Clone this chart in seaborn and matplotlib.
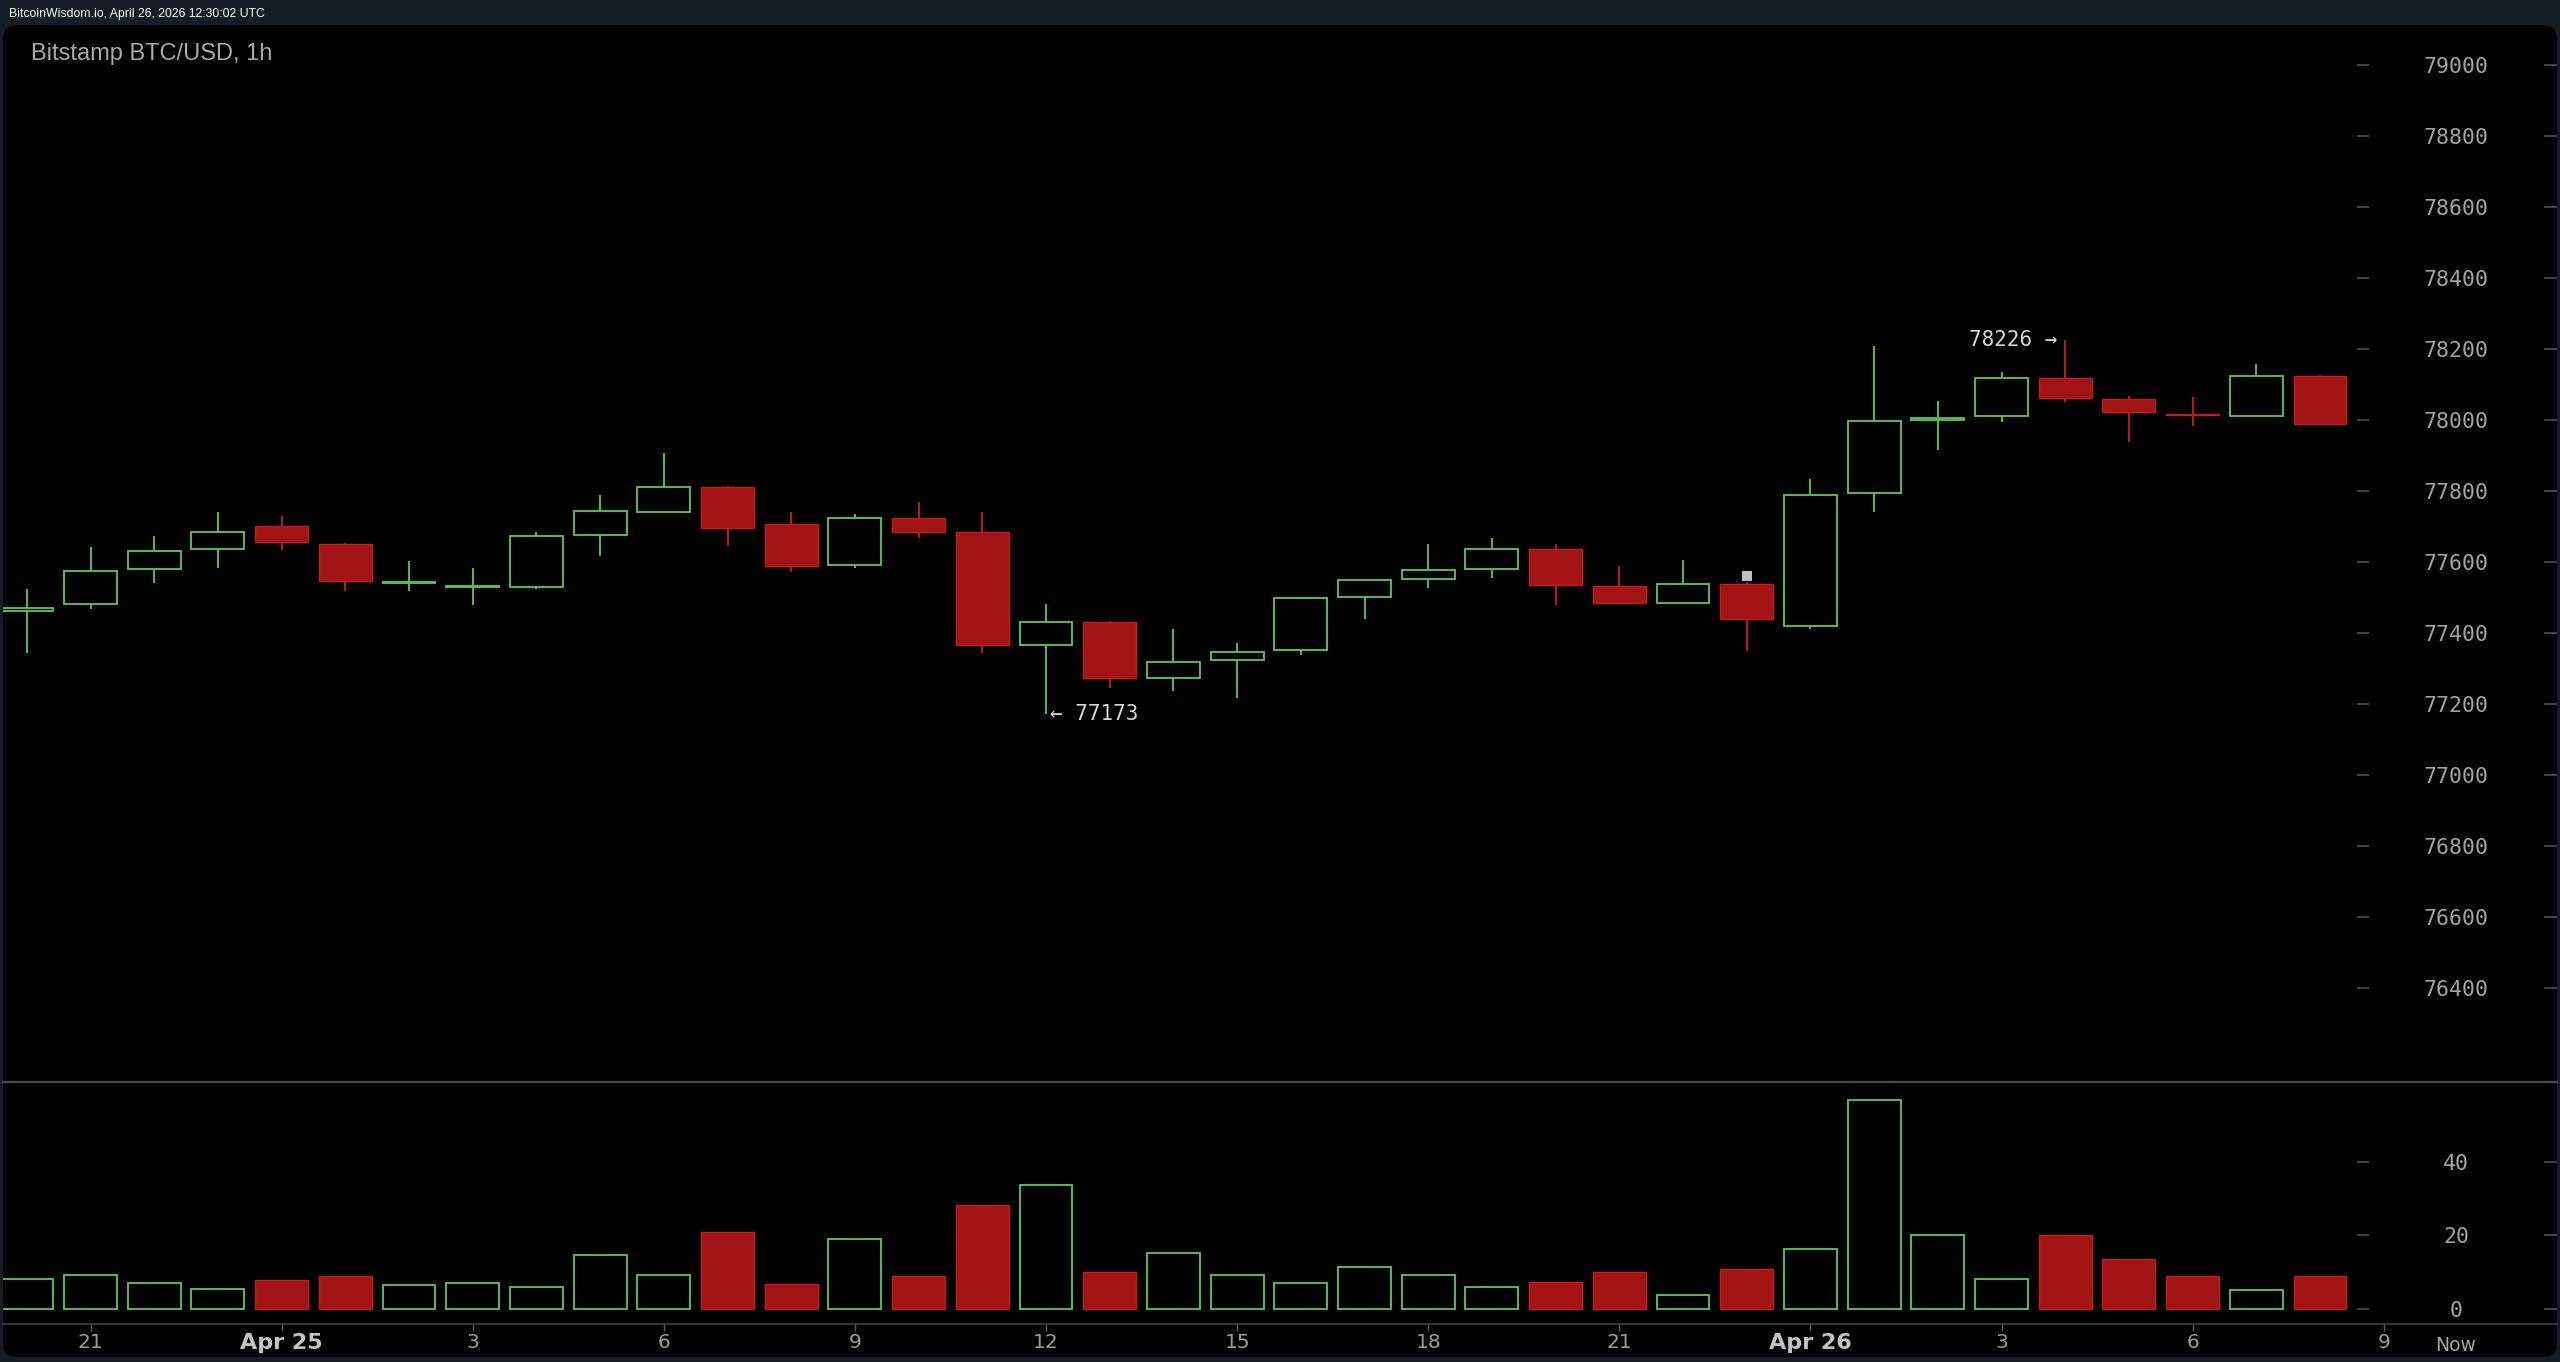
import numpy as np
import pandas as pd
import matplotlib
matplotlib.use("Agg")
import matplotlib.pyplot as plt
import seaborn as sns
from matplotlib.patches import FancyBboxPatch
from matplotlib.transforms import IdentityTransform

# ---------------- data (hourly candles, Bitstamp BTC/USD) ----------------
candle_idx = list(range(37))
opens = [77462, 77481, 77580, 77636, 77700, 77651, 77541, 77529, 77530, 77675,
         77742, 77812, 77706, 77591, 77723, 77684, 77367, 77432, 77273, 77323,
         77351, 77502, 77552, 77580, 77638, 77532, 77485, 77538, 77419, 77793,
         78000, 78011, 78119, 78058, 78018, 78012, 78124]
closes = [77470, 77576, 77632, 77684, 77657, 77546, 77545, 77533, 77672, 77744,
          77812, 77697, 77590, 77723, 77685, 77367, 77432, 77272, 77319, 77347,
          77499, 77549, 77577, 77638, 77536, 77485, 77538, 77440, 77788, 77996,
          78006, 78119, 78062, 78022, 78014, 78124, 77989]
highs = [77523, 77641, 77673, 77740, 77729, 77653, 77602, 77584, 77684, 77790,
         77908, 77814, 77741, 77735, 77768, 77742, 77483, 77434, 77410, 77371,
         77501, 77551, 77651, 77668, 77651, 77589, 77607, 77545, 77835, 78209,
         78053, 78136, 78226, 78069, 78064, 78159, 78126]
lows = [77344, 77467, 77540, 77584, 77634, 77517, 77517, 77478, 77523, 77617,
        77740, 77646, 77573, 77584, 77667, 77344, 77173, 77244, 77238, 77216,
        77339, 77439, 77528, 77556, 77478, 77483, 77483, 77350, 77412, 77742,
        77915, 77994, 78050, 77938, 77982, 78010, 77988]
volumes = [8.2, 9.2, 7.1, 5.4, 7.8, 8.8, 6.5, 7.1, 6.0, 14.7,
           9.2, 20.8, 6.6, 19.0, 8.8, 28.3, 33.6, 9.9, 15.2, 9.2,
           7.1, 11.3, 9.2, 6.0, 7.2, 9.9, 3.8, 10.9, 16.2, 56.9,
           20.1, 8.1, 20.1, 13.6, 8.8, 5.0, 8.8]
marker_idx = 27
marker_low, marker_high = 77546, 77574

price_ticks = [76400, 76600, 76800, 77000, 77200, 77400, 77600, 77800,
               78000, 78200, 78400, 78600, 78800, 79000]
volume_ticks = [0, 20, 40]
time_tick_pos = [1, 4, 7, 10, 13, 16, 19, 22, 25, 28, 31, 34, 37]
time_tick_labels = ["21", "Apr 25", "3", "6", "9", "12", "15", "18", "21",
                    "Apr 26", "3", "6", "9"]
now_pos = 38.13
title_text = "Bitstamp BTC/USD, 1h"
header_text = "BitcoinWisdom.io, April 26, 2026 12:30:02 UTC"

# ---------------- styling ----------------
GREEN = "#58c158"
RED_FILL = "#a31414"
RED_LINE = "#c41c1c"
TICK_GREY = "#555555"
LABEL_GREY = "#a3a3a3"
OUTER = "#161b26"

W, H = 2560, 1362
sns.set_theme(style="dark")
plt.rcParams["font.family"] = ["DejaVu Sans"]
plt.rcParams["axes.facecolor"] = "none"

fig = plt.figure(figsize=(W / 100, H / 100), dpi=100, facecolor=OUTER)

panel = FancyBboxPatch((3, H - 1357), 2554, 1332,
                       boxstyle="round,pad=0,rounding_size=14",
                       transform=IdentityTransform(),
                       facecolor="black", edgecolor="none", zorder=-5)
fig.add_artist(panel)

PY_TOP, PY_SEP, PY_AX = 25, 1082, 1324.3
ax_p = fig.add_axes([3 / W, 1 - PY_SEP / H, 2554 / W, (PY_SEP - PY_TOP) / H])
ax_v = fig.add_axes([3 / W, 1 - PY_AX / H, 2554 / W, (PY_AX - PY_SEP) / H], sharex=ax_p)
for a in (ax_p, ax_v):
    a.set_facecolor("none")
    for s in a.spines.values():
        s.set_visible(False)
    a.grid(False)

df = pd.DataFrame({"idx": candle_idx, "open": opens, "close": closes,
                   "high": highs, "low": lows, "vol": volumes})
df["up"] = df["close"] >= df["open"]
up = df[df["up"]]
dn = df[~df["up"]]

BODY_W = 0.83
LW = 1.35

# wicks
ax_p.vlines(up["idx"], up["low"], up["high"], colors=GREEN, lw=LW, zorder=2)
ax_p.vlines(dn["idx"], dn["low"], dn["high"], colors=RED_LINE, lw=LW, zorder=2)
# bodies
ax_p.bar(up["idx"], (up["close"] - up["open"]), bottom=up["open"], width=BODY_W,
         facecolor="black", edgecolor=GREEN, linewidth=LW, zorder=3)
ax_p.bar(dn["idx"], (dn["open"] - dn["close"]), bottom=dn["close"], width=BODY_W,
         facecolor=RED_FILL, edgecolor=RED_LINE, linewidth=1.0, zorder=3)
# small grey marker
ax_p.bar([marker_idx], [marker_high - marker_low], bottom=[marker_low], width=0.16,
         color="#bdbdbd", edgecolor="none", zorder=4)

# annotations of extremes
i_lo = int(np.argmin(lows))
i_hi = int(np.argmax(highs))
ann_kw = dict(family="DejaVu Sans Mono", fontsize=15, color="#d8d8d8", va="center", zorder=5)
ax_p.text(i_lo + 0.07, lows[i_lo], f"\u2190 {lows[i_lo]}", ha="left", **ann_kw)
ax_p.text(i_hi - 0.13, highs[i_hi], f"{highs[i_hi]} \u2192", ha="right", **ann_kw)

# price axis scaling
s = 2600 / 923.0
ax_p.set_ylim(79000 - (PY_SEP - 65) * s, 79000 + (65 - PY_TOP) * s)
ax_p.set_xlim(-0.374, 39.72)

# ---------------- volume (seaborn) ----------------
sns.barplot(data=up, x="idx", y="vol", native_scale=True, fill=False, color=GREEN,
            saturation=1, width=BODY_W, linewidth=LW, errorbar=None, ax=ax_v, zorder=3)
sns.barplot(data=dn, x="idx", y="vol", native_scale=True, fill=True, color=RED_FILL,
            saturation=1, width=BODY_W, edgecolor=RED_LINE, linewidth=1.0,
            errorbar=None, ax=ax_v, zorder=3)
ax_v.set_xlabel("")
ax_v.set_ylabel("")
v_per_px = 1 / 3.675
ax_v.set_ylim(-(PY_AX - 1308.7) * v_per_px, (1308.7 - PY_SEP) * v_per_px)
ax_v.set_xlim(-0.374, 39.72)

# separator + x axis line
ax_p.spines["bottom"].set_visible(True)
ax_p.spines["bottom"].set_color("#4a4a4a")
ax_p.spines["bottom"].set_linewidth(1.6)
ax_v.spines["bottom"].set_visible(True)
ax_v.spines["bottom"].set_color("#3e3e3e")
ax_v.spines["bottom"].set_linewidth(1.3)

# y ticks (right side, labels inside)
for a, ticks in ((ax_p, price_ticks), (ax_v, volume_ticks)):
    a.yaxis.tick_right()
    a.set_yticks(ticks)
    a.set_yticklabels([str(t) for t in ticks])
    a.tick_params(axis="y", which="major", right=True, left=False, labelright=True,
                  labelleft=False, direction="in", length=9.4, width=1.1,
                  color=TICK_GREY, pad=-72.7, labelcolor=LABEL_GREY, labelsize=15.5)
    for lbl in a.get_yticklabels():
        lbl.set_ha("center")
        lbl.set_family("DejaVu Sans Mono")
    a.hlines(ticks, 36.58, 36.77, colors=TICK_GREY, lw=1.1, zorder=1)

# x ticks
ax_p.tick_params(axis="x", which="both", bottom=False, labelbottom=False)
ax_v.set_xticks(time_tick_pos)
ax_v.set_xticklabels(time_tick_labels)
ax_v.tick_params(axis="x", which="major", bottom=True, direction="out", length=5,
                 width=1.0, color="#5a5a5a", pad=1.5, labelcolor="#9c9c9c", labelsize=14.5)
for lbl in ax_v.get_xticklabels():
    if lbl.get_text().startswith("Apr"):
        lbl.set_fontweight("bold")
        lbl.set_fontsize(16)
        lbl.set_color("#c2c2c2")
ax_v.set_xticks([now_pos], minor=True)
ax_v.set_xticklabels(["Now"], minor=True)
ax_v.tick_params(axis="x", which="minor", length=0, pad=8.5, labelcolor="#a8a8a8", labelsize=13.5)

# titles
fig.text(31 / W, 1 - 60 / H, title_text, family="Liberation Sans", fontsize=17,
         color="#a9a9a9", va="baseline", ha="left")
fig.text(9 / W, 1 - 14 / H, header_text, family="Liberation Sans", fontsize=8.8,
         color="#ffffff", va="center", ha="left")

fig.savefig("out.png", dpi=100, facecolor=OUTER)
